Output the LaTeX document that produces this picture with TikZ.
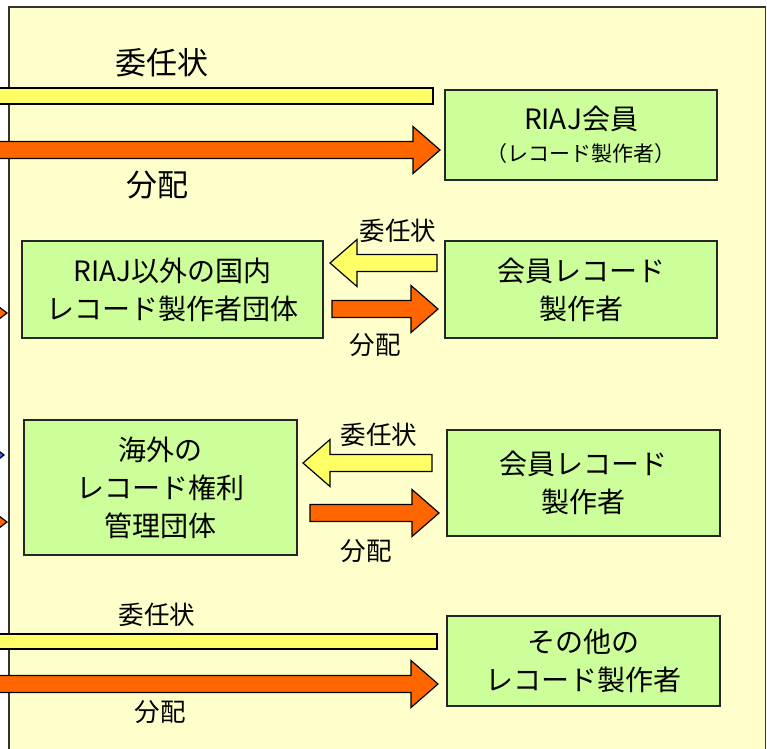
\documentclass[tikz,border=0pt]{standalone}
\usepackage{fontspec}
\setmainfont{Noto Sans CJK JP}
\usetikzlibrary{calc}

\definecolor{paleyellow}{HTML}{FFFFCC}
\definecolor{boxgreen}{HTML}{CCFF99}
\definecolor{bandyellow}{HTML}{FFFF66}
\definecolor{bandorange}{HTML}{FF6600}
\definecolor{tipblue}{HTML}{3366FF}

\tikzset{
  frame/.style={draw=black!80,line width=1.5pt,fill=paleyellow},
  party/.style={draw=black!85,line width=1.5pt,fill=boxgreen,align=center,
    inner sep=0pt,font=\fontsize{28}{38}\selectfont},
  proxy/.style={draw=black,line width=1.2pt,fill=bandyellow,line join=miter},
  payout/.style={draw=black,line width=1.2pt,fill=bandorange,line join=miter},
  biglabel/.style={font=\fontsize{31}{33}\selectfont},
  smalllabel/.style={font=\fontsize{25.5}{27}\selectfont}
}

% block arrow: style, tail, tip (horizontal)
\newcommand{\blockarrow}[3]{%
  \draw[#1] let \p1=#2, \p2=#3, \p3=($#3!27pt!#2$) in
    (\x1,\y1+8.5pt) -- (\x3,\y1+8.5pt) -- (\x3,\y1+23.5pt) -- (\x2,\y2)
    -- (\x3,\y1-23.5pt) -- (\x3,\y1-8.5pt) -- (\x1,\y1-8.5pt) -- cycle;}

\begin{document}
\begin{tikzpicture}[x=1pt,y=-1pt]
   \useasboundingbox (0,0) rectangle (767,748);
   \clip (0,0) rectangle (767,748);
   \draw[frame] (9,7) rectangle (765.5,770);

   % arrows coming in from the left edge
   \draw[payout] (-14,297) -- (7,313) -- (-14,329) -- cycle;
   \draw[draw=black,line width=1.2pt,fill=tipblue] (-14,441) -- (4,455) -- (-14,469) -- cycle;
   \draw[payout] (-14,506) -- (7,522) -- (-14,538) -- cycle;

   % parties
   \node[party,minimum width=272pt,minimum height=90pt] (riaj) at (581,135)
      {RIAJ会員\\[-6pt]{\fontsize{21}{24}\selectfont （レコード製作者）}};
   \node[party,minimum width=301pt,minimum height=97pt] (domestic) at (172.5,289.5)
      {RIAJ以外の国内\\レコード製作者団体};
   \node[party,minimum width=272pt,minimum height=97pt] (member1) at (581,289.5)
      {会員レコード\\製作者};
   \node[party,minimum width=273pt,minimum height=135pt] (overseas) at (160.5,487.5)
      {海外の\\レコード権利\\管理団体};
   \node[party,minimum width=273pt,minimum height=106pt] (member2) at (583.5,483)
      {会員レコード\\製作者};
   \node[party,minimum width=273pt,minimum height=90pt] (others) at (583.5,661)
      {その他の\\レコード製作者};

   % arrow ends
   \coordinate (topTail) at (-20,150);
   \coordinate (topTip) at (440,150);
   \coordinate (dProxyTail) at (437,263);
   \coordinate (dProxyTip) at (330,263);
   \coordinate (dPayTail) at (332,309);
   \coordinate (dPayTip) at (438,309);
   \coordinate (oProxyTail) at (432,463);
   \coordinate (oProxyTip) at (303,463);
   \coordinate (oPayTail) at (310,513);
   \coordinate (oPayTip) at (439,513);
   \coordinate (botTail) at (-20,684);
   \coordinate (botTip) at (438,684);

   \draw[proxy] (-20,88) rectangle (433,104);
   \blockarrow{payout}{(topTail)}{(topTip)}
   \blockarrow{proxy}{(dProxyTail)}{(dProxyTip)}
   \blockarrow{payout}{(dPayTail)}{(dPayTip)}
   \blockarrow{proxy}{(oProxyTail)}{(oProxyTip)}
   \blockarrow{payout}{(oPayTail)}{(oPayTip)}
   \draw[proxy] (-20,634) rectangle (437,649);
   \blockarrow{payout}{(botTail)}{(botTip)}

   % labels
   \node[biglabel] (topProxy) at (162,63) {委任状};
   \node[biglabel] (topPay) at (157,185) {分配};
   \node[smalllabel] (dProxy) at (398,231) {委任状};
   \node[smalllabel] (dPay) at (375,345) {分配};
   \node[smalllabel] (oProxy) at (379,435) {委任状};
   \node[smalllabel] (oPay) at (366,551) {分配};
   \node[smalllabel] (botProxy) at (157,615) {委任状};
   \node[smalllabel] (botPay) at (160,712) {分配};
\end{tikzpicture}
\end{document}
